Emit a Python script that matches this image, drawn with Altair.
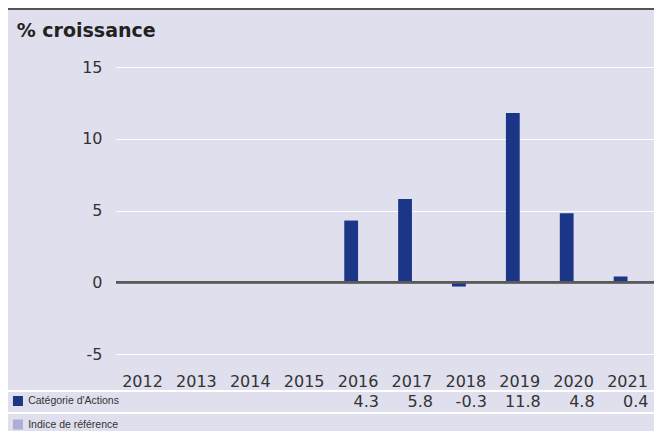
import altair as alt
import pandas as pd

years = ["2012", "2013", "2014", "2015", "2016", "2017", "2018", "2019", "2020", "2021"]
series = ["Catégorie d'Actions", "Indice de référence"]
cat_years = ["2016", "2017", "2018", "2019", "2020", "2021"]
cat_values = [4.3, 5.8, -0.3, 11.8, 4.8, 0.4]
cat_labels = ["4.3", "5.8", "-0.3", "11.8", "4.8", "0.4"]
y_ticks = [-5, 0, 5, 10, 15]
colors = ["#1B3587", "#ADADD6"]

df = pd.DataFrame({
    "year": cat_years,
    "series": [series[0]] * len(cat_years),
    "value": cat_values,
    "label": cat_labels,
})

BG = "#DFDFED"
W, H = 538, 287
PAD_L, PAD_T, PAD_B = 108, 59, 77

x_enc = alt.X("year:N", scale=alt.Scale(domain=years, paddingInner=0.488, paddingOuter=0.236),
              axis=alt.Axis(title=None, labelAngle=0, ticks=False, domain=False, grid=False,
                            labelPadding=19, labelFontSize=16, labelFont="DejaVu Sans",
                            labelColor="#333333"))

bars = alt.Chart(df).mark_bar().encode(
    x=x_enc,
    xOffset=alt.XOffset("series:N", scale=alt.Scale(domain=series)),
    y=alt.Y("value:Q", scale=alt.Scale(domain=[-5, 15], nice=False, zero=False),
            axis=alt.Axis(title=None, values=y_ticks, ticks=False, domain=False,
                          gridColor="white", gridWidth=1, labelPadding=14,
                          labelFontSize=16, labelFont="DejaVu Sans", labelColor="#333333",
                          labelExpr="datum.value + ''")),
    color=alt.Color("series:N", scale=alt.Scale(domain=series, range=colors),
                    legend=alt.Legend(title=None, orient="none", legendX=-103.3, legendY=328.75,
                                      symbolType="square", symbolSize=100, symbolStrokeWidth=0,
                                      labelFont="Liberation Sans", labelFontSize=10.5,
                                      labelColor="#333333", labelOffset=5, rowPadding=12.5,
                                      padding=0)),
)

zero = alt.Chart(df).mark_rule(color="#5A5A5A", strokeWidth=2).encode(y=alt.datum(0))

table = alt.Chart(df).mark_text(align="right", baseline="alphabetic", dx=21, fontSize=16,
                                font="DejaVu Sans", color="#333333").encode(
    x=alt.X("year:N", scale=alt.Scale(domain=years)),
    y=alt.value(339.5),
    text="label:N",
)

sep1 = alt.Chart(df).mark_rule(color="white", strokeWidth=2).encode(
    x=alt.value(-PAD_L), x2=alt.value(W), y=alt.value(324))
sep2 = alt.Chart(df).mark_rule(color="white", strokeWidth=2).encode(
    x=alt.value(-PAD_L), x2=alt.value(W), y=alt.value(346))
topline = alt.Chart(df).mark_rule(color="#555555", strokeWidth=2.5).encode(
    x=alt.value(-PAD_L), x2=alt.value(W), y=alt.value(-58.25))

chart = alt.layer(sep1, sep2, topline, bars, zero, table).properties(
    width=W, height=H,
    title=alt.TitleParams("% croissance", anchor="start", frame="group", dx=-99.3,
                          fontSize=19, font="DejaVu Sans", fontWeight="bold",
                          color="#222222", baseline="alphabetic", offset=-48.5),
    autosize=alt.AutoSizeParams(type="none"),
    padding={"left": PAD_L, "top": PAD_T, "right": 0, "bottom": PAD_B},
    background=BG,
).configure_view(stroke=None)

chart.save("out.html", embed_options={"renderer": "svg", "actions": False})
